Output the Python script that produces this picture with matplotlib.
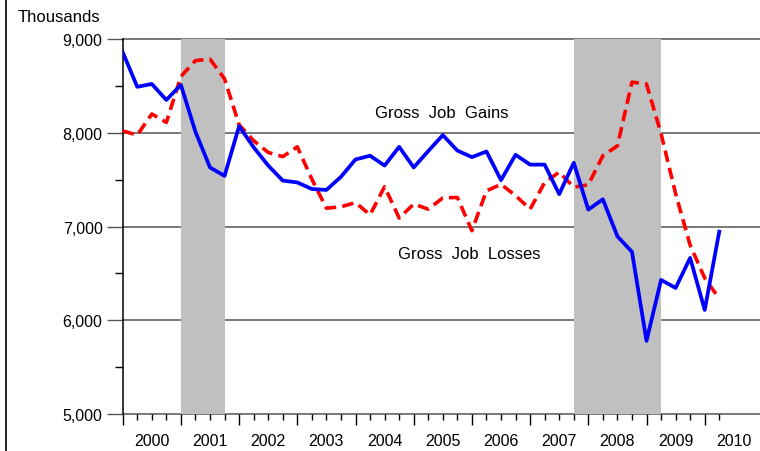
import numpy as np
import matplotlib.pyplot as plt
from matplotlib.lines import Line2D
from matplotlib.ticker import MultipleLocator, FuncFormatter

plt.rcParams['font.family'] = ['Liberation Sans', 'DejaVu Sans']

# quarterly positions, 2000Q1 .. 2010Q2
quarters = np.arange(2000, 2010.5, 0.25)

gains = [8860, 8490, 8520, 8350, 8510, 8010, 7630, 7540, 8070, 7845,
         7650, 7490, 7470, 7400, 7390, 7530, 7715, 7755, 7650, 7850,
         7630, 7805, 7975, 7810, 7740, 7800, 7495, 7765, 7660, 7660,
         7345, 7680, 7180, 7290, 6895, 6730, 5780, 6430, 6345, 6665,
         6110, 6945]
losses = [8020, 7975, 8200, 8110, 8600, 8770, 8785, 8575, 8085, 7915,
          7790, 7745, 7850, 7505, 7195, 7210, 7255, 7125, 7425, 7090,
          7240, 7185, 7305, 7310, 6955, 7380, 7450, 7330, 7185, 7470,
          7580, 7420, 7445, 7755, 7860, 8540, 8520, 7990, 7350, 6800,
          6450, 6230]

recessions = [(2001.0, 2001.75), (2007.75, 2009.25)]
years = list(range(2000, 2011))

fig = plt.figure(figsize=(7.6, 4.52), dpi=100)
ax = fig.add_axes([122.7 / 760, 37 / 452, (760 - 122.7) / 760, 375 / 452])

ax.set_xlim(2000, 2010.95)
ax.set_ylim(5000, 9000)

# horizontal grid
for v in range(5000, 10000, 1000):
    ax.axhline(v, color='#555555', lw=1.1, zorder=1, clip_on=False)

for a, b in recessions:
    ax.axvspan(a, b, color='#c0c0c0', lw=0, zorder=2)

ax.plot(quarters, losses, color='#ff0000', lw=2.6, dashes=(3.2, 1.7), zorder=3)
ax.plot(quarters, gains, color='#0000ff', lw=2.7, zorder=4)

ax.text(2004.33, 8221, 'Gross  Job  Gains', fontsize=12, va='center', ha='left')
ax.text(2004.73, 6707, 'Gross  Job  Losses', fontsize=12, va='center', ha='left')

for s in ['top', 'right', 'bottom']:
    ax.spines[s].set_visible(False)
ax.spines['left'].set_color('black')
ax.spines['left'].set_linewidth(1.1)

ax.yaxis.set_major_locator(MultipleLocator(1000))
ax.yaxis.set_minor_locator(MultipleLocator(500))
ax.yaxis.set_major_formatter(FuncFormatter(lambda v, p: f'{int(v):,}'))
ax.tick_params(axis='y', which='major', length=11.5, width=1, color='#555555',
               labelsize=11.5, pad=3)
ax.tick_params(axis='y', which='minor', length=5.5, width=1, color='black')

ax.set_xticks(years)
ax.set_xticks(quarters, minor=True)
ax.set_xticklabels([])
ax.tick_params(axis='x', which='major', length=8, width=1, color='black')
ax.tick_params(axis='x', which='minor', length=4, width=1, color='black')

for y in years:
    ax.text(y + 0.5, -0.07, str(y), transform=ax.get_xaxis_transform(),
            ha='center', va='center', fontsize=11.5)

fig.text(18 / 760, 1 - 18 / 452, 'Thousands', fontsize=12, ha='left', va='center')
fig.add_artist(Line2D([5.5 / 760, 5.5 / 760], [0, 1], color='black', lw=1.2,
                      transform=fig.transFigure))

fig.savefig('out.png', dpi=100)
